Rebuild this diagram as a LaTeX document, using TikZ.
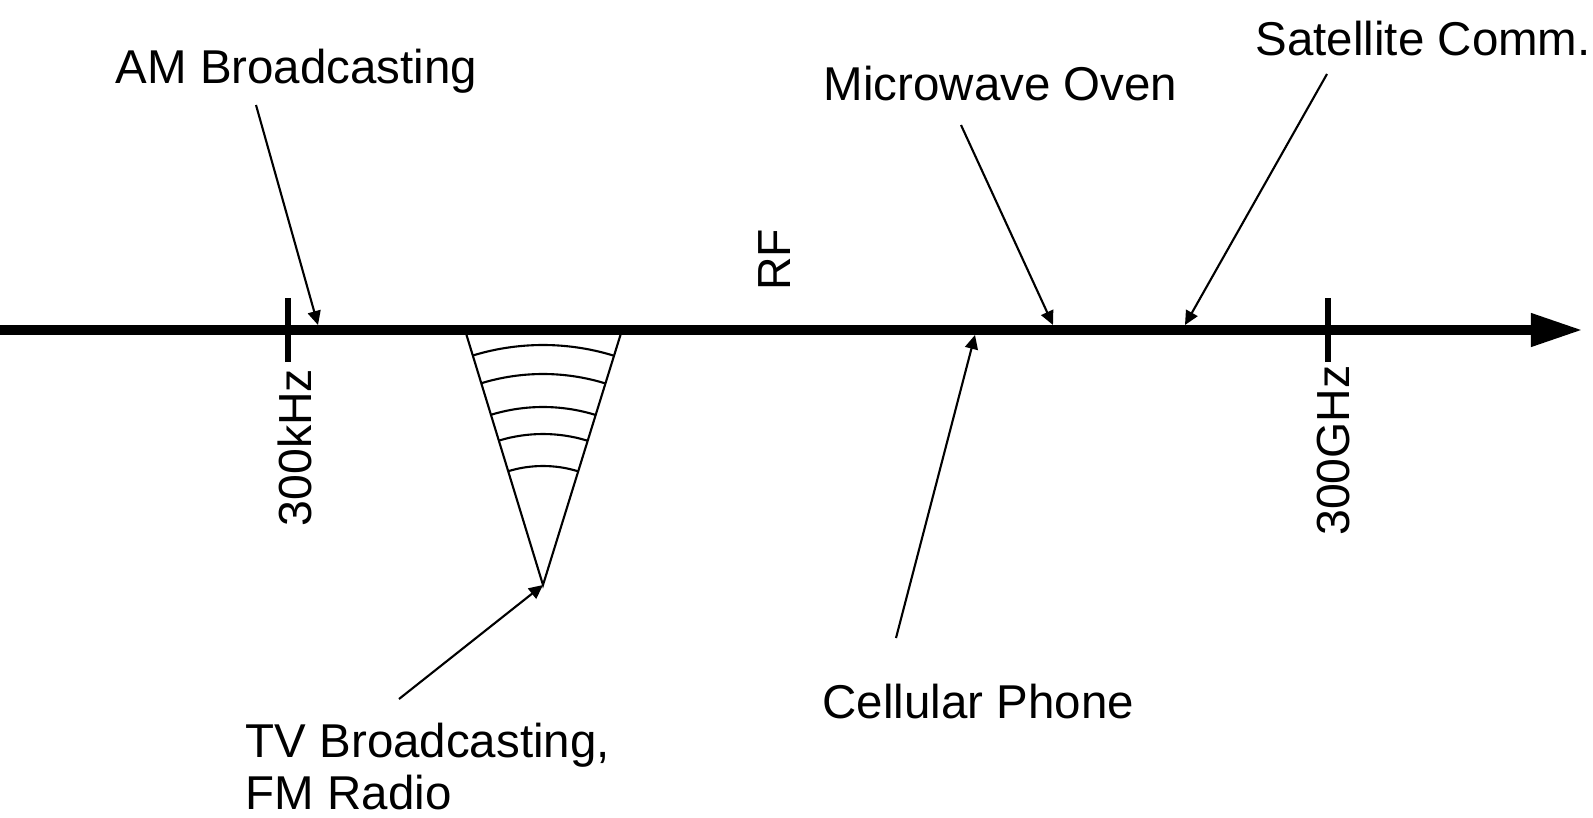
\documentclass[tikz,border=0pt]{standalone}
\usepackage{fontspec}
\setmainfont{Liberation Sans}
\usetikzlibrary{arrows.meta}

\begin{document}
\begin{tikzpicture}[x=0.01cm, y=0.01cm,
    etichetta/.style={anchor=base west, inner sep=0pt, font=\fontsize{13.5}{15}\selectfont},
    verticale/.style={rotate=90, inner sep=0pt, font=\fontsize{13.2}{14}\selectfont},
    freccia/.style={line width=0.6pt, -{Triangle[length=0.14cm, width=0.13cm]}},
    tacca/.style={line width=0.06cm},
    sottile/.style={line width=0.6pt}]
    % Area del disegno
    \useasboundingbox (0,0) rectangle (1593,817);

    % Asse delle frequenze con freccia finale
    \coordinate (inizio) at (0,487);
    \coordinate (fine) at (1583,487);
    \draw[line width=0.1cm, -{Triangle[length=0.52cm, width=0.31cm]}] (inizio) -- (fine);

    % Tacche e scritte verticali
    \draw[tacca] (288,455) -- (288,519);
    \draw[tacca] (1328,455) -- (1328,519);
    \node[verticale] (khz) at (295,369.5) {300kHz};
    \node[verticale] (ghz) at (1334,366.5) {300GHz};
    \node[verticale] (rf) at (775,557) {RF};

    % Triangolo della banda TV/FM con gli archi
    \coordinate (vertice) at (543,232);
    \draw[sottile] (465,487) -- (vertice) -- (622,487);
    \foreach \r in {240,211,178,151,119}
        \draw[sottile] (vertice) ++(73:\r) arc[start angle=73, end angle=107, radius=\r];

    % Etichette in alto
    \node[etichetta] (am) at (115,734) {AM Broadcasting};
    \node[etichetta] (forno) at (823,717) {Microwave Oven};
    \node[etichetta] (satellite) at (1255,762) {Satellite Comm.};

    % Etichette in basso
    \node[etichetta] (cellulare) at (822,99) {Cellular Phone};
    \node[etichetta, anchor=north west, align=left] (tv) at (245,95) {TV Broadcasting,\\FM Radio};

    % Frecce verso l'asse
    \coordinate (am-da) at (256,712);
    \coordinate (am-a) at (318,492);
    \coordinate (forno-da) at (961,692);
    \coordinate (forno-a) at (1053,492);
    \coordinate (satellite-da) at (1327,743);
    \coordinate (satellite-a) at (1185,492);
    \coordinate (cellulare-da) at (896,179);
    \coordinate (cellulare-a) at (975,482);
    \coordinate (tv-da) at (399,118);
    \draw[freccia] (am-da) -- (am-a);
    \draw[freccia] (forno-da) -- (forno-a);
    \draw[freccia] (satellite-da) -- (satellite-a);
    \draw[freccia] (cellulare-da) -- (cellulare-a);
    \draw[freccia] (tv-da) -- (vertice);
\end{tikzpicture}
\end{document}
